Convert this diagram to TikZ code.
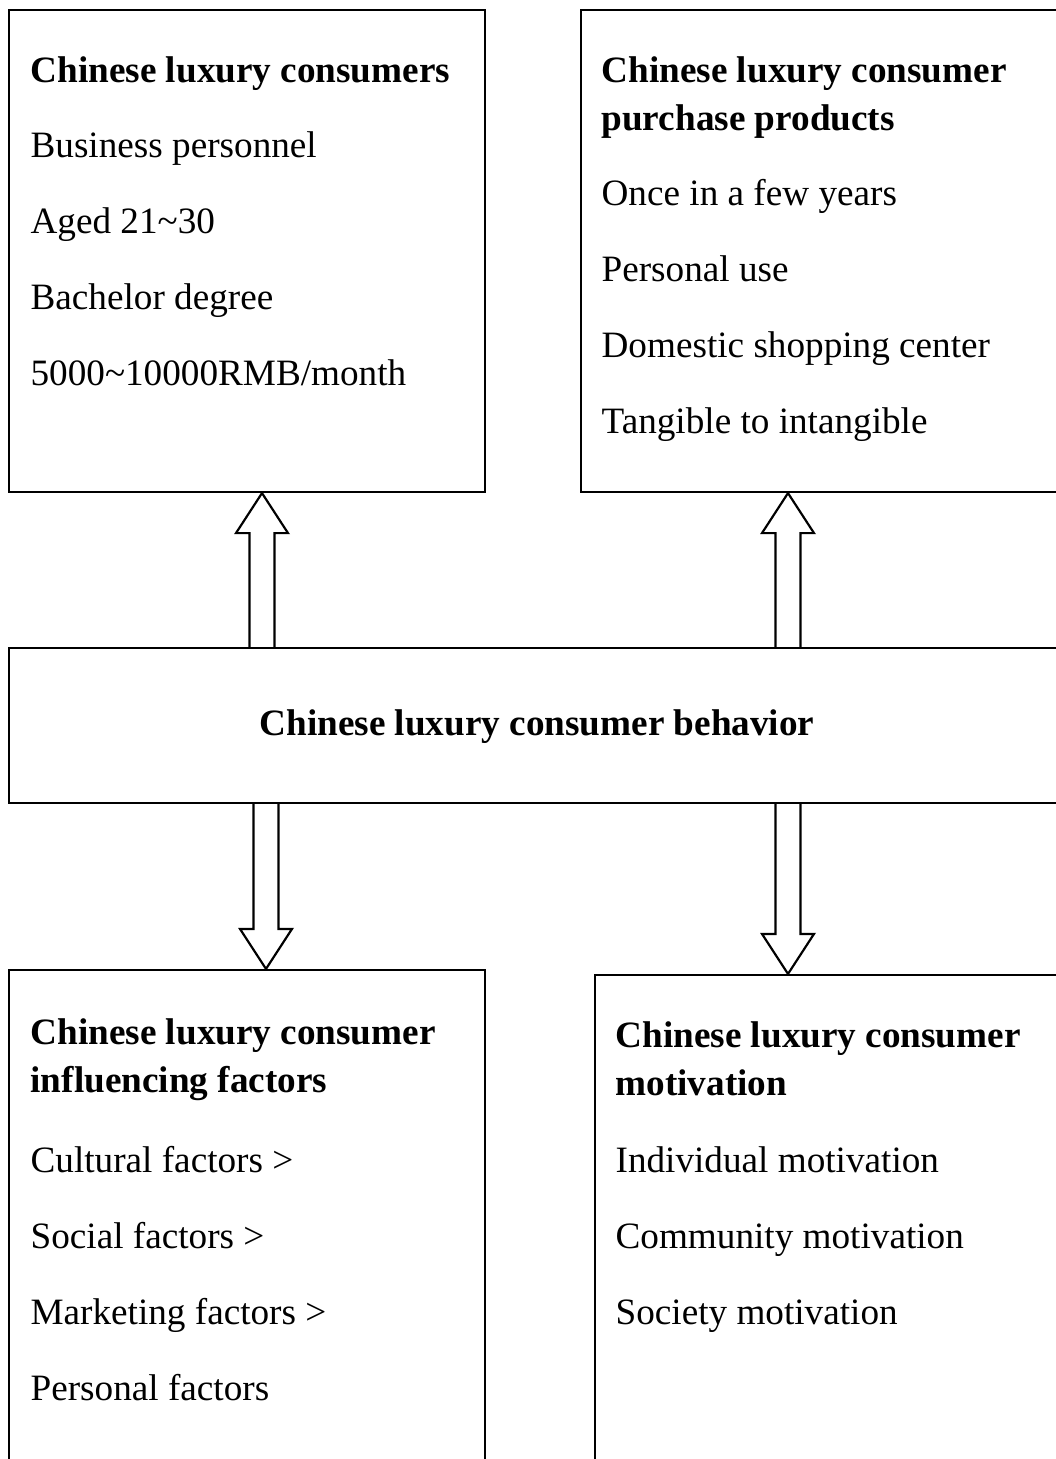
\documentclass[tikz,border=0pt]{standalone}
\usepackage{fontspec}
\setmainfont{Liberation Serif}
\usetikzlibrary{calc,fit}

\begin{document}
\begin{tikzpicture}[
  x=0.3226pt, y=-0.3226pt,
  font=\fontsize{12}{15.5}\selectfont,
  box/.style={draw=black, line width=0.7pt, inner sep=0pt},
  head/.style={anchor=base west, inner sep=0pt, font=\fontsize{12}{15.5}\selectfont\bfseries},
  item/.style={anchor=base west, inner sep=0pt},
  blk/.style={draw=black, line width=0.7pt, line join=miter}
]
\useasboundingbox (0,0) rectangle (1056,1459);
\clip (0,0) rectangle (1056,1459);

% boxes (right and bottom ones run off the page)
\node[box, fit={(9,10) (485,492)}] (tl) {};
\node[box, fit={(581,10) (1075,492)}] (tr) {};
\node[box, fit={(9,648) (1075,803)}] (mid) {};
\node[box, fit={(9,970) (485,1480)}] (bl) {};
\node[box, fit={(595,975) (1075,1480)}] (br) {};

% ---- consumers
\node[head] (tlh) at (30,82) {Chinese luxury consumers};
\node[item] (tl1) at (30,157) {Business personnel};
\node[item] (tl2) at (30,233) {Aged 21\textasciitilde30};
\node[item] (tl3) at (30,309) {Bachelor degree};
\node[item] (tl4) at (30,385) {5000\textasciitilde10000RMB/month};

% ---- purchase products
\node[head] (trh) at (601,82) {Chinese luxury consumer};
\node[head] (trh2) at (601,130) {purchase products};
\node[item] (tr1) at (601,205) {Once in a few years};
\node[item] (tr2) at (601,281) {Personal use};
\node[item] (tr3) at (601,357) {Domestic shopping center};
\node[item] (tr4) at (601,433) {Tangible to intangible};

% ---- behavior
\node[head, anchor=base] (midh) at (537,735) {Chinese luxury consumer behavior};

% ---- influencing factors
\node[head] (blh) at (30,1044) {Chinese luxury consumer};
\node[head] (blh2) at (30,1092) {influencing factors};
\node[item] (bl1) at (30,1172) {Cultural factors >};
\node[item] (bl2) at (30,1248) {Social factors >};
\node[item] (bl3) at (30,1324) {Marketing factors >};
\node[item] (bl4) at (30,1400) {Personal factors};

% ---- motivation
\node[head] (brh) at (615,1047) {Chinese luxury consumer};
\node[head] (brh2) at (615,1095) {motivation};
\node[item] (br1) at (615,1172) {Individual motivation};
\node[item] (br2) at (615,1248) {Community motivation};
\node[item] (br3) at (615,1324) {Society motivation};

% block arrows: tail on mid, tip on the outer box
\coordinate (t1) at (262,648); \coordinate (h1) at (t1 |- tl.south);
\coordinate (t2) at (788,648); \coordinate (h2) at (t2 |- tr.south);
\coordinate (t3) at (266,803); \coordinate (h3) at (t3 |- bl.north);
\coordinate (t4) at (788,803); \coordinate (h4) at (t4 |- br.north);
\foreach \t/\h/\s in {t1/h1/-1, t2/h2/-1, t3/h3/1, t4/h4/1}
  \draw[blk] ($(\t)+(-12.5,0)$) -- ($(\h)+(-12.5,{-40*(\s)})$)
    -- ($(\h)+(-26,{-40*(\s)})$) -- (\h) -- ($(\h)+(26,{-40*(\s)})$)
    -- ($(\h)+(12.5,{-40*(\s)})$) -- ($(\t)+(12.5,0)$);
\end{tikzpicture}
\end{document}
